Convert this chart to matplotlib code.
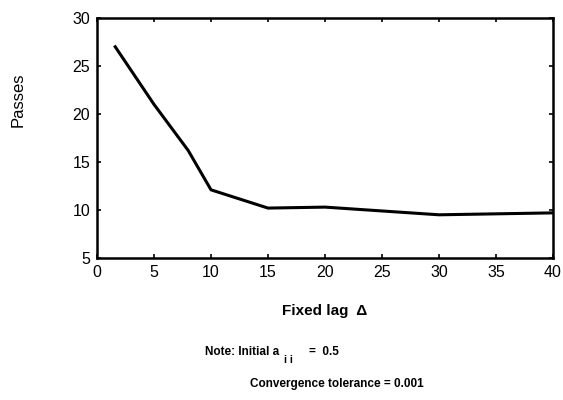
import matplotlib
matplotlib.use('Agg')
import matplotlib.pyplot as plt

# data
lag = [1.6, 5, 8, 10, 15, 20, 25, 30, 35, 40]
passes = [27.0, 21.0, 16.2, 12.1, 10.2, 10.3, 9.9, 9.5, 9.6, 9.7]
xticks = [0, 5, 10, 15, 20, 25, 30, 35, 40]
yticks = [5, 10, 15, 20, 25, 30]

plt.rcParams['font.family'] = ['Liberation Sans', 'DejaVu Sans']

fig = plt.figure(figsize=(5.63, 4.0), dpi=100)
ax = fig.add_axes([97 / 563, 1 - 258 / 400, 456 / 563, 240 / 400])

ax.plot(lag, passes, color='black', linewidth=2.2)
ax.set_xlim(0, 40)
ax.set_ylim(5, 30)
ax.set_xticks(xticks)
ax.set_yticks(yticks)
ax.tick_params(direction='in', top=True, right=True, length=3, width=1.2,
               labelsize=11.5, pad=5)
for s in ax.spines.values():
    s.set_linewidth(1.8)

fig.text(18 / 563, 1 - 100 / 400, 'Passes', rotation=90, ha='center', va='center',
         fontsize=12)
fig.text(325 / 563, 1 - 311 / 400, 'Fixed lag  \u0394', ha='center', va='center',
         fontsize=11, fontweight='bold')
fig.text(205 / 563, 1 - 352 / 400, 'Note: Initial a', ha='left', va='center',
         fontsize=8.5, fontweight='bold')
fig.text(284 / 563, 1 - 360 / 400, 'i i', ha='left', va='center',
         fontsize=7.5, fontweight='bold')
fig.text(309 / 563, 1 - 352 / 400, '=  0.5', ha='left', va='center',
         fontsize=8.5, fontweight='bold')
fig.text(250 / 563, 1 - 384 / 400, 'Convergence tolerance = 0.001', ha='left', va='center',
         fontsize=8.5, fontweight='bold')

fig.savefig('out.png', dpi=100)
